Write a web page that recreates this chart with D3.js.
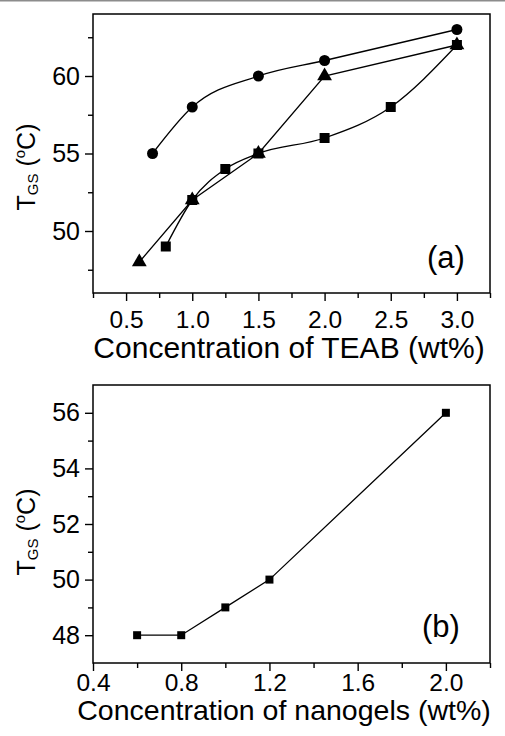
<!DOCTYPE html>
<html>
<head>
<meta charset="utf-8">
<script src="https://cdn.jsdelivr.net/npm/d3@7/dist/d3.min.js"></script>
<style>
  html, body { margin: 0; padding: 0; background: #fff; }
  svg { display: block; }
  text { font-family: "Liberation Sans", Arial, sans-serif; fill: #000; }
</style>
</head>
<body>
<svg id="chart" width="505" height="736"></svg>
<script>
// ---------- Data ----------
// Panel (a): concentration of TEAB (wt%) vs T_GS (°C)
const circleX = [0.7, 1.0, 1.5, 2.0, 3.0];
const circleY = [55, 58, 60, 61, 63];
const squareX = [0.8, 1.0, 1.25, 1.5, 2.0, 2.5, 3.0];
const squareY = [49, 52, 54, 55, 56, 58, 62];
const triangleX = [0.6, 1.0, 1.5, 2.0, 3.0];
const triangleY = [48, 52, 55, 60, 62];
const aXTicks = [0.5, 1.0, 1.5, 2.0, 2.5, 3.0];
const aXMinor = [0.25, 0.75, 1.25, 1.75, 2.25, 2.75, 3.25];
const aYTicks = [50, 55, 60];
const aYMinor = [47.5, 52.5, 57.5, 62.5];

// Panel (b): concentration of nanogels (wt%) vs T_GS (°C)
const nanoX = [0.6, 0.8, 1.0, 1.2, 2.0];
const nanoY = [48, 48, 49, 50, 56];
const bXTicks = [0.4, 0.8, 1.2, 1.6, 2.0];
const bXMinor = [0.6, 1.0, 1.4, 1.8, 2.2];
const bYTicks = [48, 50, 52, 54, 56];
const bYMinor = [49, 51, 53, 55];

const svg = d3.select("#chart");
svg.append("rect").attr("width", 505).attr("height", 736).attr("fill", "#fff");
svg.append("rect").attr("x", 0).attr("y", 0).attr("width", 505).attr("height", 1.5).attr("fill", "#8c8c8c");

function panel(opts) {
  const { left, right, top, bottom } = opts;
  const x = d3.scaleLinear().domain(opts.xDomain).range([left, right]);
  const y = d3.scaleLinear().domain(opts.yDomain).range([bottom, top]);
  const g = svg.append("g");

  // minor ticks
  g.append("g").attr("transform", `translate(0,${bottom})`)
    .call(d3.axisBottom(x).tickValues(opts.xMinor).tickSize(5).tickFormat(""))
    .call(s => s.select(".domain").remove());
  g.append("g").attr("transform", `translate(${left},0)`)
    .call(d3.axisLeft(y).tickValues(opts.yMinor).tickSize(5).tickFormat(""))
    .call(s => s.select(".domain").remove());
  // major ticks
  const xa = g.append("g").attr("transform", `translate(0,${bottom})`)
    .call(d3.axisBottom(x).tickValues(opts.xTicks).tickSize(8).tickPadding(opts.xPad).tickFormat(d3.format(".1f")));
  xa.select(".domain").remove();
  xa.selectAll("text").style("font-size", "24.5px").attr("font-family", null);
  const ya = g.append("g").attr("transform", `translate(${left},0)`)
    .call(d3.axisLeft(y).tickValues(opts.yTicks).tickSize(8).tickPadding(5).tickFormat(d3.format("d")));
  ya.select(".domain").remove();
  ya.selectAll("text").style("font-size", "25px").attr("font-family", null);
  g.selectAll(".tick line").attr("stroke", "#000").attr("stroke-width", 1.4);

  // frame
  g.append("rect").attr("x", left).attr("y", top)
    .attr("width", right - left).attr("height", bottom - top)
    .attr("fill", "none").attr("stroke", "#000").attr("stroke-width", 1.5);

  // x title
  g.append("text").attr("x", opts.xTitleX).attr("y", opts.xTitleY)
    .attr("text-anchor", "middle").style("font-size", opts.xTitleSize + "px")
    .text(opts.xTitle);

  // y title
  const yt = g.append("text")
    .attr("transform", `translate(35,${opts.yTitleY}) rotate(-90)`)
    .attr("text-anchor", "middle").style("font-size", "25px");
  yt.append("tspan").text("T");
  yt.append("tspan").attr("dy", 3).style("font-size", "15px").text("GS");
  yt.append("tspan").attr("dy", -3).text(" (");
  yt.append("tspan").attr("dy", -10).style("font-size", "15px").text("o");
  yt.append("tspan").attr("dy", 10).text("C)");

  // panel label
  g.append("text").attr("x", opts.labelX).attr("y", opts.labelY)
    .style("font-size", "31px").text(opts.label);

  return { x, y, g };
}

// ---------- Panel (a) ----------
const A = panel({
  left: 93, right: 490, top: 14, bottom: 293,
  xDomain: [0.25, 3.25], yDomain: [46, 64],
  xTicks: aXTicks, xMinor: aXMinor, yTicks: aYTicks, yMinor: aYMinor,
  xPad: 10,
  xTitle: "Concentration of TEAB (wt%)", xTitleX: 289, xTitleY: 358, xTitleSize: 30,
  yTitleY: 167, label: "(a)", labelX: 427, labelY: 268
});

function series(P, xs, ys, curve, symbol, size) {
  const pts = xs.map((v, i) => [P.x(v), P.y(ys[i])]);
  P.g.append("path").attr("d", d3.line().curve(curve)(pts))
    .attr("fill", "none").attr("stroke", "#000").attr("stroke-width", 1.3);
  P.g.selectAll(null).data(xs.map((v, i) => ({ x: v, y: ys[i] }))).enter()
    .append("path")
    .attr("transform", d => `translate(${P.x(d.x)},${P.y(d.y)})`)
    .attr("d", d3.symbol().type(symbol).size(size)())
    .attr("fill", "#000");
}

series(A, circleX, circleY, d3.curveMonotoneX, d3.symbolCircle, 95);
series(A, squareX, squareY, d3.curveMonotoneX, d3.symbolSquare, 100);
series(A, triangleX, triangleY, d3.curveLinear, d3.symbolTriangle, 95);

// ---------- Panel (b) ----------
const B = panel({
  left: 93, right: 490, top: 385, bottom: 663,
  xDomain: [0.4, 2.2], yDomain: [47, 57],
  xTicks: bXTicks, xMinor: bXMinor, yTicks: bYTicks, yMinor: bYMinor,
  xPad: 3,
  xTitle: "Concentration of nanogels (wt%)", xTitleX: 284, xTitleY: 720, xTitleSize: 28.5,
  yTitleY: 532, label: "(b)", labelX: 422, labelY: 637
});
series(B, nanoX, nanoY, d3.curveLinear, d3.symbolSquare, 64);
</script>
</body>
</html>
